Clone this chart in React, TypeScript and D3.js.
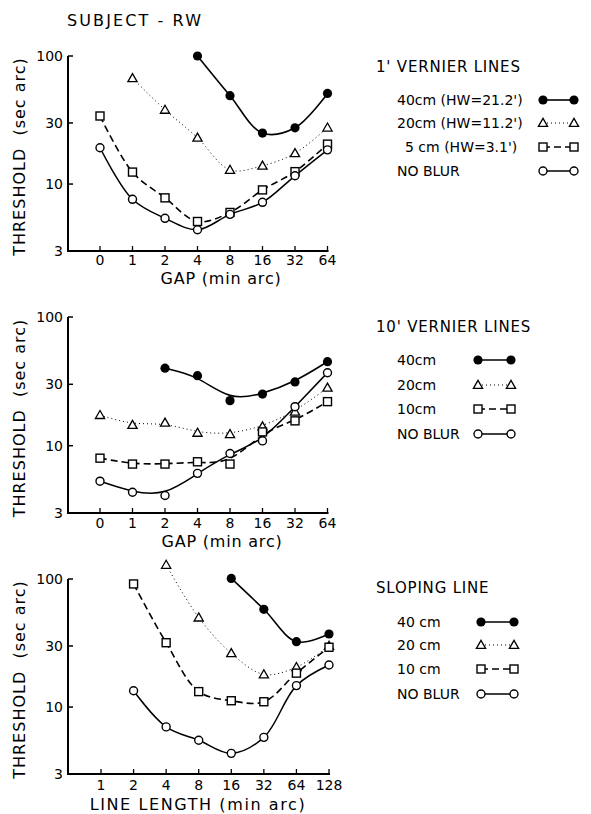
import React from "react";
import * as d3 from "d3";

const gapLabels = ["0", "1", "2", "4", "8", "16", "32", "64"];
const lengthLabels = ["1", "2", "4", "8", "16", "32", "64", "128"];
const yTickValues = [3, 10, 30, 100];

// Panel 1: 1' vernier lines
const p1Blur40 = [null, null, null, 100, 49, 25, 27.5, 51];
const p1Blur20 = [null, 67, 38, 23, 12.9, 13.9, 17.4, 27.6];
const p1Blur5 = [34, 12.4, 7.8, 5.1, 6.0, 9.0, 12.5, 20.5];
const p1NoBlur = [19.2, 7.6, 5.4, 4.4, 5.8, 7.2, 11.6, 18.5];

// Panel 2: 10' vernier lines
const p2Blur40 = [null, null, 40, 35, 22.4, 25.2, 31.3, 45];
const p2Blur20 = [17.3, 14.5, 15.1, 12.6, 12.3, 14.1, 18.4, 28.2];
const p2Blur10 = [8.0, 7.2, 7.2, 7.5, 7.2, 12.8, 15.6, 22];
const p2NoBlur = [5.3, 4.35, 4.1, 6.1, 8.7, 10.9, 20.1, 36.9];

// Panel 3: sloping line
const p3Blur40 = [null, null, null, null, 101, 58, 32.4, 37.2];
const p3Blur20 = [null, null, 129, 50, 26.3, 18, 20.5, 30];
const p3Blur10 = [null, 91.5, 31.8, 13.2, 11.2, 11.0, 18.4, 29.3];
const p3NoBlur = [null, 13.4, 7.0, 5.5, 4.35, 5.8, 14.7, 21.3];

const legend1 = ["40cm (HW=21.2')", "20cm (HW=11.2')", "5 cm (HW=3.1')", "NO BLUR"];
const legend2 = ["40cm", "20cm", "10cm", "NO BLUR"];
const legend3 = ["40 cm", "20 cm", "10 cm", "NO BLUR"];

const FONT = "'DejaVu Sans', 'Liberation Sans', sans-serif";

type Kind = "filled" | "triangle" | "square" | "circle";
const kinds: Kind[] = ["filled", "triangle", "square", "circle"];
const dashFor: Record<Kind, string | undefined> = {
  filled: undefined,
  triangle: "1,3",
  square: "7,4",
  circle: undefined,
};
const widthFor: Record<Kind, number> = { filled: 1.6, triangle: 1, square: 1.6, circle: 1.5 };

function Marker({ kind, x, y }: { kind: Kind; x: number; y: number }) {
  if (kind === "filled") return <circle cx={x} cy={y} r={4.6} fill="#000" />;
  if (kind === "circle")
    return <circle cx={x} cy={y} r={4} fill="#fff" stroke="#000" strokeWidth={1.4} />;
  if (kind === "square")
    return (
      <rect x={x - 4} y={y - 4} width={8} height={8} fill="#fff" stroke="#000" strokeWidth={1.4} />
    );
  const s = 4.6;
  return (
    <path
      d={`M${x},${y - s} L${x + s},${y + s * 0.75} L${x - s},${y + s * 0.75} Z`}
      fill="#fff"
      stroke="#000"
      strokeWidth={1.3}
    />
  );
}

type PanelProps = {
  top: number;
  bottom: number;
  xStart: number;
  xEnd: number;
  labels: string[];
  series: (number | null)[][];
  xTitle: string;
  xTitleX: number;
  xTitleDy: number;
  xTitleSpacing: number;
  tickDy: number;
  fitted: boolean;
  legendTitle: string;
  legendLabels: string[];
  legendTitleY: number;
  legendRowY: number[];
  legendTextX: number[];
  legendSymX: [number, number];
};

function Panel(p: PanelProps) {
  const y = d3.scaleLog().domain([3, 100]).range([p.bottom, p.top]);
  const x = d3.scalePoint<string>().domain(p.labels).range([p.xStart, p.xEnd]).padding(0);
  const axisLeft = 68;
  const axisRight = p.xEnd + 1;
  const curve = p.fitted ? d3.curveBasis : d3.curveCatmullRom.alpha(0.5);

  return (
    <g>
      {p.series.map((vals, si) => {
        const pts = vals
          .map((v, i) => (v == null ? null : ([x(p.labels[i]) as number, y(v)] as [number, number])))
          .filter((d): d is [number, number] => d != null);
        const line = d3.line().curve(curve)(pts) || "";
        const k = kinds[si];
        return (
          <path
            key={"l" + si}
            d={line}
            fill="none"
            stroke="#000"
            strokeWidth={widthFor[k]}
            strokeDasharray={dashFor[k]}
          />
        );
      })}
      {p.series.map((vals, si) =>
        vals.map((v, i) =>
          v == null ? null : (
            <Marker key={`m${si}-${i}`} kind={kinds[si]} x={x(p.labels[i]) as number} y={y(v)} />
          )
        )
      )}
      <line x1={axisLeft} x2={axisLeft} y1={p.top} y2={p.bottom + 1} stroke="#000" strokeWidth={2} />
      <line x1={axisLeft - 1} x2={axisRight} y1={p.bottom} y2={p.bottom} stroke="#000" strokeWidth={2} />
      {yTickValues.map((t) => (
        <g key={"yt" + t}>
          <line x1={axisLeft} x2={axisLeft + 5} y1={y(t)} y2={y(t)} stroke="#000" strokeWidth={1.5} />
          <text x={63} y={y(t)} dy="0.36em" textAnchor="end" fontFamily={FONT} fontSize={14}>
            {t}
          </text>
        </g>
      ))}
      {p.labels.map((l) => (
        <g key={"xt" + l}>
          <line
            x1={x(l) as number}
            x2={x(l) as number}
            y1={p.bottom}
            y2={p.bottom - 5}
            stroke="#000"
            strokeWidth={1.3}
          />
          <text
            x={x(l) as number}
            y={p.bottom + p.tickDy}
            textAnchor="middle"
            fontFamily={FONT}
            fontSize={14}
          >
            {l}
          </text>
        </g>
      ))}
      <text
        x={p.xTitleX}
        y={p.bottom + p.xTitleDy}
        textAnchor="middle"
        fontFamily={FONT}
        fontSize={16}
        letterSpacing={p.xTitleSpacing}
      >
        {p.xTitle}
      </text>
      <text
        transform={`translate(25,${(p.top + p.bottom) / 2 + 3}) rotate(-90)`}
        textAnchor="middle"
        fontFamily={FONT}
        fontSize={16}
        letterSpacing={1}
      >
        THRESHOLD{"\u00a0\u00a0"}(sec arc)
      </text>
      <text x={376} y={p.legendTitleY + 6} fontFamily={FONT} fontSize={15} letterSpacing={0.8}>
        {p.legendTitle}
      </text>
      {p.legendLabels.map((lab, i) => {
        const k = kinds[i];
        const ry = p.legendRowY[i];
        const [sx0, sx1] = p.legendSymX;
        return (
          <g key={"lg" + i}>
            <text x={p.legendTextX[i]} y={ry + 5} fontFamily={FONT} fontSize={14}>
              {lab}
            </text>
            <line
              x1={sx0}
              x2={sx1}
              y1={ry}
              y2={ry}
              stroke="#000"
              strokeWidth={widthFor[k]}
              strokeDasharray={dashFor[k]}
            />
            <Marker kind={k} x={sx0} y={ry} />
            <Marker kind={k} x={sx1} y={ry} />
          </g>
        );
      })}
    </g>
  );
}

export default function App() {
  return (
    <svg
      width={591}
      height={814}
      style={{ position: "absolute", left: 0, top: 0, background: "#fff" }}
    >
      <rect width={591} height={814} fill="#fff" />
      <text x={67} y={26} fontFamily={FONT} fontSize={16} letterSpacing={2.1}>
        SUBJECT - RW
      </text>
      <Panel
        top={56}
        bottom={251}
        xStart={100}
        xEnd={327.5}
        labels={gapLabels}
        series={[p1Blur40, p1Blur20, p1Blur5, p1NoBlur]}
        xTitle="GAP  (min arc)"
        xTitleX={221}
        xTitleDy={32.5}
        xTitleSpacing={0.8}
        tickDy={13.5}
        fitted={false}
        legendTitle="1' VERNIER LINES"
        legendLabels={legend1}
        legendTitleY={66}
        legendRowY={[100, 123, 147, 171]}
        legendTextX={[397, 397, 405, 397]}
        legendSymX={[543, 574]}
      />
      <Panel
        top={317}
        bottom={513}
        xStart={100}
        xEnd={327.5}
        labels={gapLabels}
        series={[p2Blur40, p2Blur20, p2Blur10, p2NoBlur]}
        xTitle="GAP  (min arc)"
        xTitleX={222}
        xTitleDy={34}
        xTitleSpacing={0.8}
        tickDy={15}
        fitted={true}
        legendTitle="10' VERNIER LINES"
        legendLabels={legend2}
        legendTitleY={326}
        legendRowY={[360, 385, 409, 434]}
        legendTextX={[397, 397, 397, 397]}
        legendSymX={[478, 511]}
      />
      <Panel
        top={579}
        bottom={774}
        xStart={101}
        xEnd={329}
        labels={lengthLabels}
        series={[p3Blur40, p3Blur20, p3Blur10, p3NoBlur]}
        xTitle="LINE LENGTH  (min arc)"
        xTitleX={198}
        xTitleDy={36}
        xTitleSpacing={1.6}
        tickDy={16}
        fitted={false}
        legendTitle="SLOPING LINE"
        legendLabels={legend3}
        legendTitleY={587}
        legendRowY={[622, 645, 669, 694]}
        legendTextX={[397, 397, 397, 397]}
        legendSymX={[481, 514]}
      />
    </svg>
  );
}
